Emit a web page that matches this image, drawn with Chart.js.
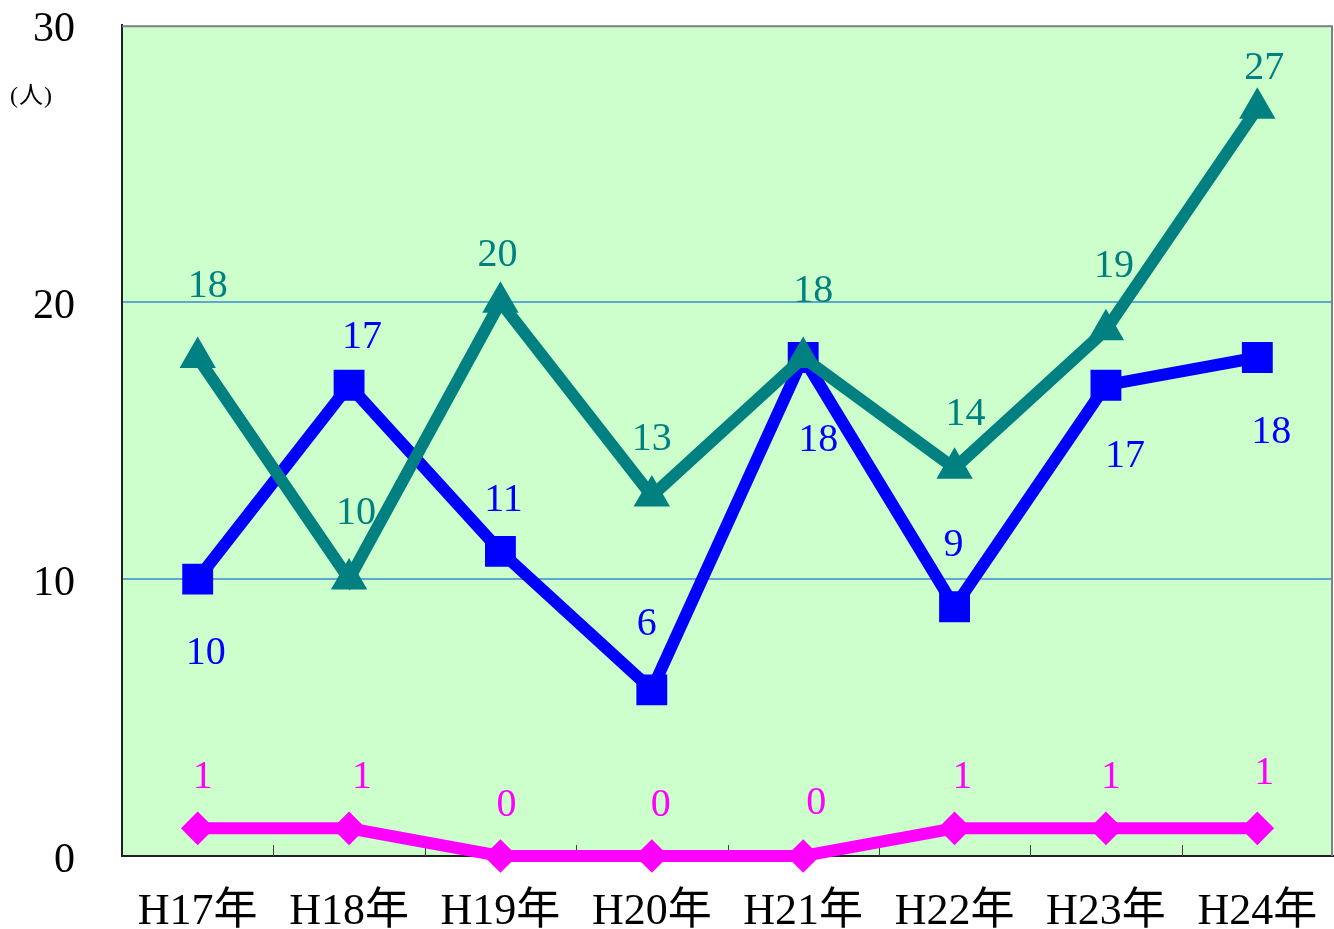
<!DOCTYPE html>
<html>
<head>
<meta charset="utf-8">
<script src="https://cdn.jsdelivr.net/npm/chart.js@4/dist/chart.umd.min.js"></script>
<style>
html,body{margin:0;padding:0;background:#fff;}
#wrap{position:relative;width:1334px;height:929px;overflow:hidden;}
#c{position:absolute;left:0;top:-47px;}
#unit{position:absolute;left:10px;top:75px;font:24px "Liberation Serif","Noto Sans CJK JP",serif;color:#000;letter-spacing:1px;}
</style>
</head>
<body>
<div id="wrap"><canvas id="c" width="1356" height="976"></canvas><div id="unit">(人)</div></div>
<script>
const categories = ["H17年","H18年","H19年","H20年","H21年","H22年","H23年","H24年"];
const tealValues = [18,10,20,13,18,14,19,27];
const blueValues = [10,17,11,6,18,9,17,18];
const magentaValues = [1,1,0,0,0,1,1,1];
const yTicks = [0,10,20,30];

const FONT = '"Liberation Serif","Noto Sans CJK JP",serif';

// label placement (pixels relative to the point), styling only
const labelPlacement = [
  {dx:[10,7,-3,0,10,11,8,7],   dy:[-71,-66,-47,-56,-66,-54,-63,-40]},
  {dx:[8,13,3,-5,15,-1,19,14], dy:[74,-48,-51,-65,83,-61,71,75]},
  {dx:[5,13,6,9,13,8,5,7],     dy:[-51,-51,-51,-51,-53,-51,-51,-55]}
];

const bgPlugin = {
  id:'bg',
  beforeDraw(chart){
    const {ctx, chartArea:a} = chart;
    ctx.save();
    ctx.fillStyle = '#CCFFCC';
    ctx.fillRect(a.left, a.top, a.right-a.left, a.bottom-a.top);
    ctx.restore();
  },
  beforeDatasetsDraw(chart){
    const {ctx, chartArea:a} = chart;
    ctx.save();
    ctx.strokeStyle = '#808080';
    ctx.lineWidth = 2;
    ctx.beginPath();
    ctx.moveTo(a.left, a.top+1); ctx.lineTo(a.right-1, a.top+1); ctx.lineTo(a.right-1, a.bottom);
    ctx.stroke();
    const step = (a.right - a.left)/categories.length;
    ctx.strokeStyle = '#404040';
    ctx.lineWidth = 1;
    for(let i=1;i<categories.length;i++){
      const x = Math.round(a.left + step*i)+0.5;
      ctx.beginPath(); ctx.moveTo(x, a.bottom); ctx.lineTo(x, a.bottom-11); ctx.stroke();
    }
    // y tick labels from the y scale
    const ys = chart.scales.y;
    ctx.fillStyle = '#000';
    ctx.font = '42px ' + FONT;
    ctx.textAlign = 'right';
    ctx.textBaseline = 'middle';
    ys.ticks.forEach(t => {
      ctx.fillText(String(t.value), a.left - 47, ys.getPixelForValue(t.value) + 5);
    });
    ctx.restore();
  }
};

const labelPlugin = {
  id:'labels',
  afterDatasetsDraw(chart){
    const {ctx} = chart;
    ctx.save();
    ctx.font = '40px ' + FONT;
    ctx.textAlign = 'center';
    ctx.textBaseline = 'middle';
    chart.data.datasets.forEach((ds, di) => {
      const meta = chart.getDatasetMeta(di);
      const p = labelPlacement[di];
      meta.data.forEach((pt, i) => {
        ctx.fillStyle = ds.labelColor;
        ctx.fillText(String(ds.data[i]), pt.x + p.dx[i], pt.y + p.dy[i]);
      });
    });
    ctx.restore();
  }
};

new Chart(document.getElementById('c'), {
  type:'line',
  data:{
    labels: categories,
    datasets:[
      {data: tealValues, borderColor:'#008080', backgroundColor:'#008080', labelColor:'#008080', clip:false,
       borderWidth:12, pointStyle:'triangle', pointRadius:17, pointBorderWidth:4, pointHoverRadius:17, tension:0},
      {data: blueValues, borderColor:'#0000FF', backgroundColor:'#0000FF', labelColor:'#0000FF', clip:false,
       borderWidth:12, pointStyle:'rect', pointRadius:19, pointBorderWidth:4, pointHoverRadius:19, tension:0},
      {data: magentaValues, borderColor:'#FF00FF', backgroundColor:'#FF00FF', labelColor:'#FF00FF', clip:false,
       borderWidth:12, pointStyle:'rectRot', pointRadius:14, pointBorderWidth:4, pointHoverRadius:14, tension:0}
    ]
  },
  options:{
    responsive:false,
    animation:false,
    events:[],
    layout:{padding:0},
    plugins:{legend:{display:false}, tooltip:{enabled:false}},
    scales:{
      x:{
        offset:true,
        grid:{display:false},
        border:{display:true, color:'#202020', width:2, z:-1},
        ticks:{font:{family:FONT, size:44}, color:'#000', padding:22, maxRotation:0, autoSkip:false},
        afterFit(s){ s.height = 73; }
      },
      y:{
        min:0, max:30,
        afterBuildTicks(s){ s.ticks = yTicks.map(v=>({value:v})); },
        grid:{
          color: c => (c.tick && (c.tick.value===10 || c.tick.value===20)) ? '#5EA8D0' : 'rgba(0,0,0,0)',
          lineWidth:2, tickLength:0, drawTicks:false
        },
        border:{display:true, color:'#202020', width:2},
        ticks:{font:{family:FONT, size:42}, color:'rgba(0,0,0,0)', padding:47},
        afterFit(s){ s.width = 122; }
      }
    }
  },
  plugins:[bgPlugin, labelPlugin]
});
</script>
</body>
</html>
